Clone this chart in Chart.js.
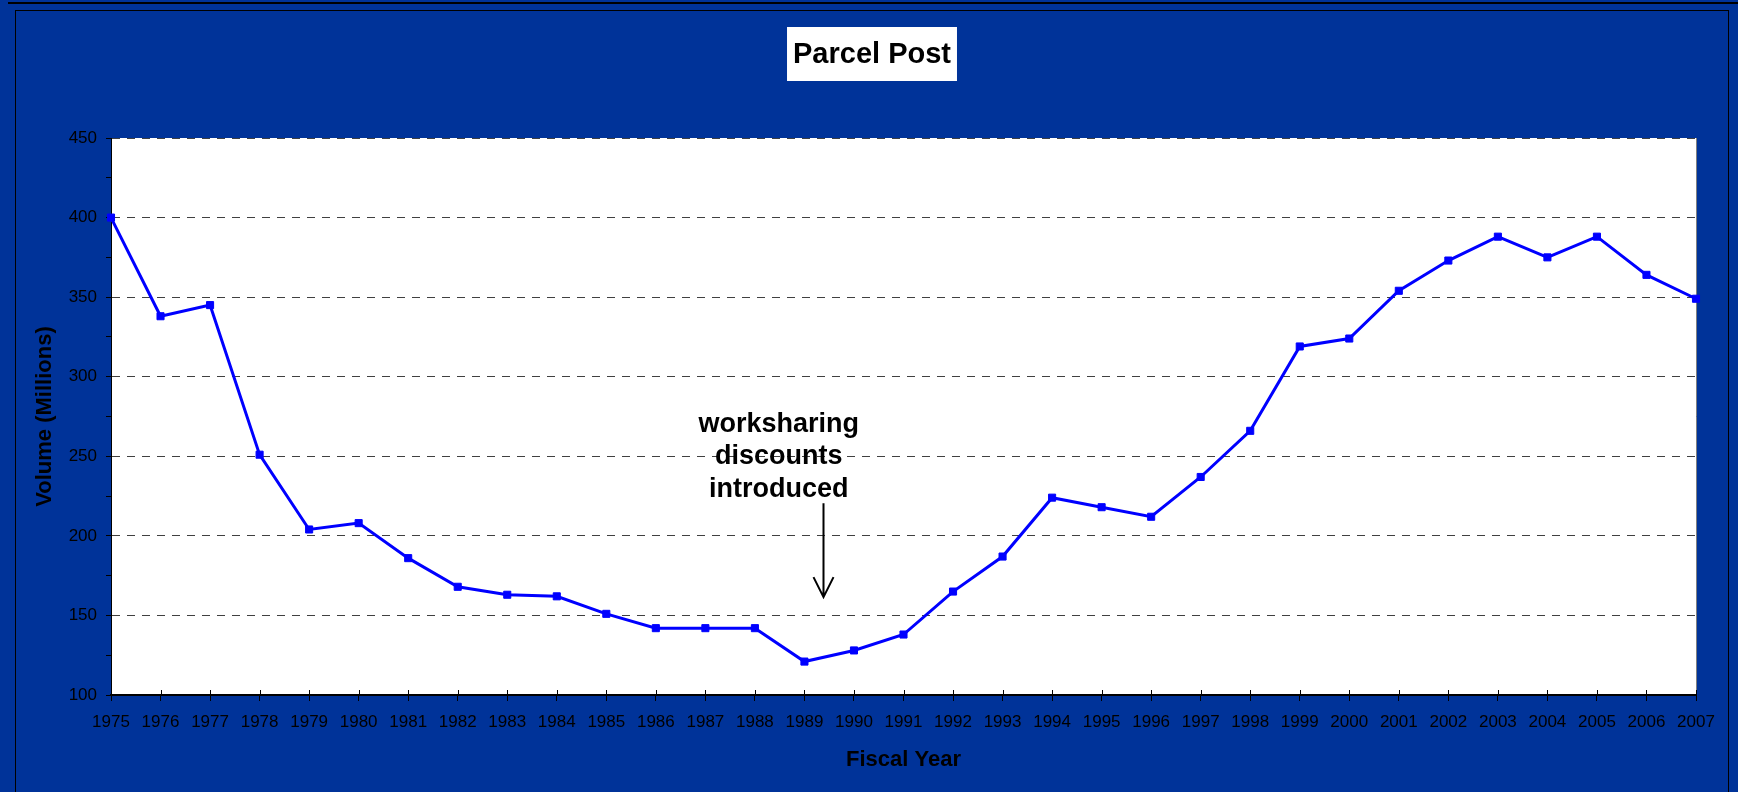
<!DOCTYPE html>
<html>
<head>
<meta charset="utf-8">
<title>Parcel Post</title>
<script src="https://cdn.jsdelivr.net/npm/chart.js@4.4.0/dist/chart.umd.min.js"></script>
<style>
  html, body { margin: 0; padding: 0; background: #003399; overflow: hidden; }
  #wrap { position: relative; width: 1738px; height: 792px; }
  .topline { position: absolute; left: 8px; right: 0; top: 2px; height: 2px; background: #000; }
  .frame { position: absolute; left: 15px; top: 10px; width: 1712px; height: 800px; border: 1px solid #000; border-bottom: none; }
  canvas { position: absolute; left: 0; top: 0; }
</style>
</head>
<body>
<div id="wrap">
  <div class="topline"></div>
  <div class="frame"></div>
  <canvas id="parcelChart" width="1738" height="792"></canvas>
</div>
<script>
// Parcel Post volume (millions) by fiscal year
const years = ['1975', '1976', '1977', '1978', '1979', '1980', '1981', '1982', '1983', '1984',
               '1985', '1986', '1987', '1988', '1989', '1990', '1991', '1992', '1993', '1994',
               '1995', '1996', '1997', '1998', '1999', '2000', '2001', '2002', '2003', '2004',
               '2005', '2006', '2007'];
const volumes = [400, 338, 345, 251, 204, 208, 186, 168, 163, 162,
                 151, 142, 142, 142, 121, 128, 138, 165, 187, 224,
                 218, 212, 237, 266, 319, 324, 354, 373, 388, 375,
                 388, 364, 349];

// y axis: labels every 50, minor ticks every 25
const yMin = 100;
const yMax = 450;
const yStep = 25;
const yLabelStep = 50;

const chartTitle = 'Parcel Post';
const noteLines = ['worksharing', 'discounts', 'introduced'];

// annotation anchors (category index / axis value)
const noteAt = 13.48;
const noteFirstBaseline = 265.5;
const arrowAt = 14.37;
const arrowFrom = 220.5;
const arrowTo = 161.5;

const FONT = '"Liberation Sans", Arial, Helvetica, sans-serif';

// white plot area with grey right edge
const plotArea = {
    id: 'plotArea',
    beforeDraw(chart) {
        const { ctx, chartArea: a } = chart;
        ctx.save();
        ctx.fillStyle = '#ffffff';
        ctx.fillRect(a.left, a.top, a.right - a.left, a.bottom - a.top);
        ctx.strokeStyle = '#808080';
        ctx.lineWidth = 1;
        ctx.beginPath();
        ctx.moveTo(a.right + 0.5, a.top);
        ctx.lineTo(a.right + 0.5, a.bottom);
        ctx.stroke();
        ctx.restore();
    }
};

// title in a white box
const titleBox = {
    id: 'titleBox',
    afterDraw(chart) {
        const ctx = chart.ctx;
        ctx.save();
        ctx.font = 'bold 29px ' + FONT;
        const w = ctx.measureText(chartTitle).width;
        const cx = 872;
        ctx.fillStyle = '#ffffff';
        ctx.fillRect(cx - w / 2 - 6, 27, w + 12, 54);
        ctx.fillStyle = '#000000';
        ctx.textAlign = 'center';
        ctx.textBaseline = 'middle';
        ctx.fillText(chartTitle, cx, 55);
        ctx.restore();
    }
};

// x ticks crossing the axis + annotation with arrow
const extras = {
    id: 'extras',
    afterDraw(chart) {
        const { ctx, chartArea: a } = chart;
        const xs = chart.scales.x;
        const ys = chart.scales.y;
        ctx.save();

        ctx.strokeStyle = '#000000';
        ctx.lineWidth = 1;
        ctx.beginPath();
        for (let i = 0; i < years.length; i++) {
            const px = Math.round(xs.getPixelForTick(i)) + 0.5;
            ctx.moveTo(px, a.bottom - 5);
            ctx.lineTo(px, a.bottom);
        }
        ctx.stroke();

        // note text
        ctx.font = 'bold 27px ' + FONT;
        ctx.fillStyle = '#000000';
        ctx.textAlign = 'center';
        ctx.textBaseline = 'alphabetic';
        const tx = xs.getPixelForValue(noteAt);
        const ty = ys.getPixelForValue(noteFirstBaseline);
        noteLines.forEach((line, i) => {
            ctx.fillText(line, tx, ty + i * 32.6);
        });

        // arrow
        const ax = Math.round(xs.getPixelForValue(arrowAt)) + 0.5;
        const y1 = ys.getPixelForValue(arrowFrom);
        const y2 = ys.getPixelForValue(arrowTo);
        ctx.lineWidth = 2;
        ctx.beginPath();
        ctx.moveTo(ax, y1);
        ctx.lineTo(ax, y2);
        ctx.moveTo(ax - 10, y2 - 20);
        ctx.lineTo(ax, y2);
        ctx.lineTo(ax + 10, y2 - 20);
        ctx.stroke();

        ctx.restore();
    }
};

document.addEventListener('DOMContentLoaded', function() {
    const canvas = document.getElementById('parcelChart');

    new Chart(canvas, {
        type: 'line',
        data: {
            labels: years,
            datasets: [{
                label: 'Parcel Post',
                data: volumes,
                borderColor: '#0000ff',
                backgroundColor: '#0000ff',
                borderWidth: 3,
                tension: 0,
                pointStyle: 'rect',
                pointRadius: 5,
                pointBorderWidth: 1,
                pointBorderColor: '#0000ff',
                pointBackgroundColor: '#0000ff',
                clip: false
            }]
        },
        options: {
            responsive: false,
            animation: false,
            devicePixelRatio: 1,
            layout: {
                padding: { top: 138, left: 20, right: 42, bottom: 10 }
            },
            plugins: {
                legend: { display: false },
                tooltip: { enabled: false },
                title: { display: false }
            },
            scales: {
                x: {
                    afterFit(scale) { scale.height = 87; },
                    ticks: {
                        color: '#000000',
                        font: { family: FONT, size: 17 },
                        padding: 11,
                        maxRotation: 0,
                        autoSkip: false
                    },
                    grid: {
                        drawOnChartArea: false,
                        tickLength: 6,
                        tickColor: '#000000',
                        tickWidth: 1
                    },
                    border: { display: true, color: '#000000', width: 2 },
                    title: {
                        display: true,
                        text: 'Fiscal Year',
                        color: '#000000',
                        font: { family: FONT, size: 22, weight: 'bold', lineHeight: 1.2 },
                        padding: { top: 0, bottom: 9 }
                    }
                },
                y: {
                    min: yMin,
                    max: yMax,
                    afterFit(scale) { scale.width = 91; },
                    ticks: {
                        stepSize: yStep,
                        color: '#000000',
                        font: { family: FONT, size: 17 },
                        padding: 9,
                        autoSkip: false,
                        callback: v => (v % yLabelStep === 0 ? v : '')
                    },
                    grid: {
                        color: c => (c.tick && c.tick.value % yLabelStep === 0) ? '#404040' : 'rgba(0,0,0,0)',
                        lineWidth: 1,
                        tickLength: 5,
                        tickColor: '#000000',
                        tickWidth: 1
                    },
                    border: { display: true, color: '#000000', width: 1, dash: [8, 7] },
                    title: {
                        display: true,
                        text: 'Volume (Millions)',
                        color: '#000000',
                        font: { family: FONT, size: 22, weight: 'bold', lineHeight: 1.2 },
                        padding: { top: 12, bottom: 0 }
                    }
                }
            }
        },
        plugins: [plotArea, titleBox, extras]
    });
});
</script>
</body>
</html>
